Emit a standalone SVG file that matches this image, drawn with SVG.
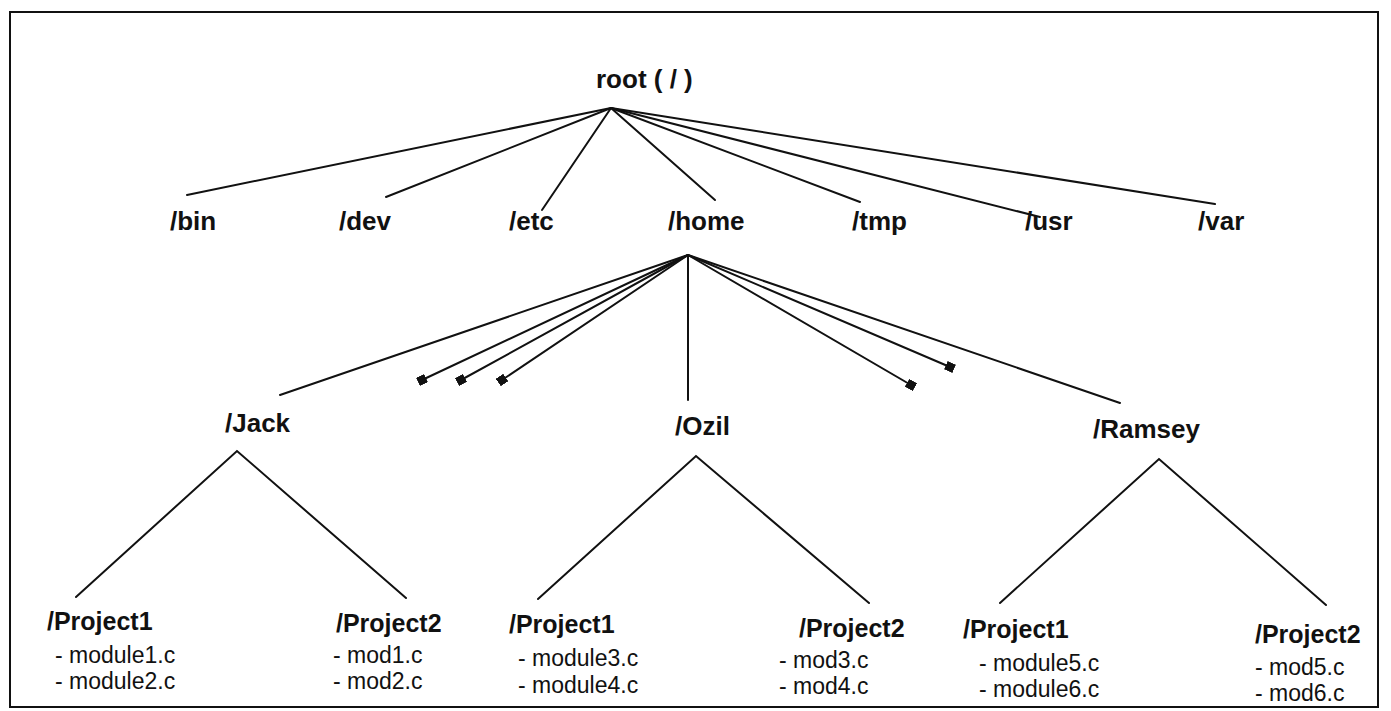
<svg xmlns="http://www.w3.org/2000/svg" width="1391" height="711" viewBox="0 0 1391 711">
<defs>
<marker id="sq" viewBox="0 0 10 10" refX="5" refY="5" markerUnits="userSpaceOnUse" markerWidth="9" markerHeight="9" orient="auto">
<rect x="0" y="0" width="10" height="10" fill="#111"/>
</marker>
</defs>
<style>
.ln{stroke:#111;stroke-width:2;fill:none;stroke-linecap:round}
.dir{font-family:"Liberation Sans",Arial,sans-serif;font-weight:bold;font-size:26px;fill:#111}
.prj{font-family:"Liberation Sans",Arial,sans-serif;font-weight:bold;font-size:25px;fill:#111}
.fil{font-family:"Liberation Sans",Arial,sans-serif;font-size:23px;fill:#111}
</style>
<rect x="0" y="0" width="1391" height="711" fill="#fff"/>
<rect x="10" y="12" width="1368" height="695" fill="none" stroke="#111" stroke-width="2"/>
<g id="connectors">
<line class="ln" x1="611" y1="108" x2="187" y2="195"/>
<line class="ln" x1="611" y1="108" x2="386" y2="197"/>
<line class="ln" x1="611" y1="108" x2="542" y2="210"/>
<line class="ln" x1="611" y1="108" x2="715" y2="200"/>
<line class="ln" x1="611" y1="108" x2="860" y2="202"/>
<line class="ln" x1="611" y1="108" x2="1040" y2="217"/>
<line class="ln" x1="611" y1="108" x2="1215" y2="204"/>
<line class="ln" x1="688" y1="255" x2="280" y2="395"/>
<line class="ln" x1="688" y1="255" x2="422" y2="380" marker-end="url(#sq)"/>
<line class="ln" x1="688" y1="255" x2="461" y2="380" marker-end="url(#sq)"/>
<line class="ln" x1="688" y1="255" x2="502" y2="380" marker-end="url(#sq)"/>
<line class="ln" x1="688" y1="255" x2="688" y2="400"/>
<line class="ln" x1="688" y1="255" x2="911" y2="385" marker-end="url(#sq)"/>
<line class="ln" x1="688" y1="255" x2="950" y2="367" marker-end="url(#sq)"/>
<line class="ln" x1="688" y1="255" x2="1120" y2="403"/>
<polyline class="ln" points="76,597 237,451 406,598"/>
<polyline class="ln" points="538,599 696,456 869,603"/>
<polyline class="ln" points="1000,603 1159,459 1326,605"/>
</g>
<g id="root"><text class="dir" x="596" y="88">root ( / )</text></g>
<g id="bin"><text class="dir" x="170" y="230">/bin</text></g>
<g id="dev"><text class="dir" x="339" y="230">/dev</text></g>
<g id="etc"><text class="dir" x="509" y="230">/etc</text></g>
<g id="home"><text class="dir" x="668" y="230">/home</text></g>
<g id="tmp"><text class="dir" x="852" y="230">/tmp</text></g>
<g id="usr"><text class="dir" x="1025" y="230">/usr</text></g>
<g id="var"><text class="dir" x="1198" y="230">/var</text></g>
<g id="jack"><text class="dir" x="225" y="432">/Jack</text></g>
<g id="ozil"><text class="dir" x="675" y="435">/Ozil</text></g>
<g id="ramsey"><text class="dir" x="1093" y="438">/Ramsey</text></g>
<g id="jack-project1">
<text class="prj" x="47" y="630">/Project1</text>
<text class="fil" x="55" y="663">- module1.c</text>
<text class="fil" x="55" y="689">- module2.c</text>
</g>
<g id="jack-project2">
<text class="prj" x="336" y="632">/Project2</text>
<text class="fil" x="333" y="663">- mod1.c</text>
<text class="fil" x="333" y="689">- mod2.c</text>
</g>
<g id="ozil-project1">
<text class="prj" x="509" y="633">/Project1</text>
<text class="fil" x="518" y="666">- module3.c</text>
<text class="fil" x="518" y="693">- module4.c</text>
</g>
<g id="ozil-project2">
<text class="prj" x="799" y="637">/Project2</text>
<text class="fil" x="779" y="668">- mod3.c</text>
<text class="fil" x="779" y="694">- mod4.c</text>
</g>
<g id="ramsey-project1">
<text class="prj" x="963" y="638">/Project1</text>
<text class="fil" x="979" y="671">- module5.c</text>
<text class="fil" x="979" y="697">- module6.c</text>
</g>
<g id="ramsey-project2">
<text class="prj" x="1255" y="643">/Project2</text>
<text class="fil" x="1255" y="675">- mod5.c</text>
<text class="fil" x="1255" y="701">- mod6.c</text>
</g>
</svg>
